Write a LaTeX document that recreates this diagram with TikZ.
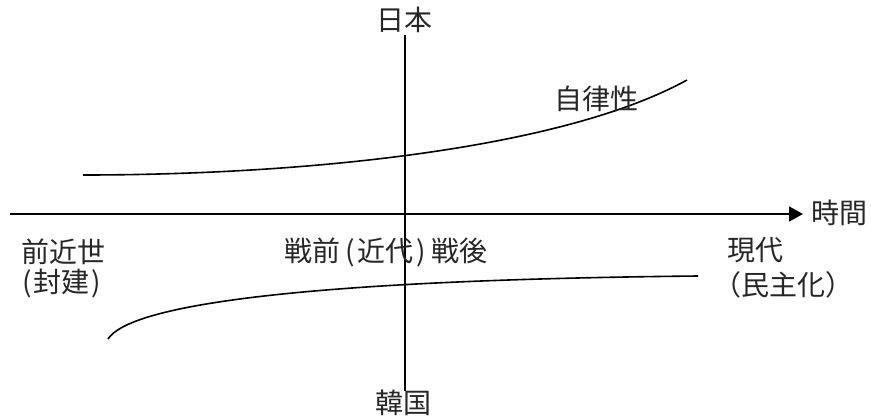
\documentclass[tikz,border=0pt]{standalone}
\usepackage{fontspec}
\setmainfont{Noto Sans CJK JP}
\usetikzlibrary{arrows.meta}
\begin{document}
\begin{tikzpicture}[x=1pt,y=-1pt,
  lbl/.style={font=\fontsize{28}{30}\selectfont, inner sep=0pt, text=black!85},
  axisline/.style={line width=1.6pt},
  trend/.style={line width=1.6pt}]
\useasboundingbox (0,0) rectangle (871,418);
% axes
\coordinate (xs) at (10,214);
\node[lbl, anchor=west, inner xsep=8pt] (time) at (803,213) {時間};
\draw[axisline,-{Triangle[length=14pt,width=15pt]}] (xs) -- (xs -| time.west);
\node[lbl] (nihon) at (404,20) {日本};
\node[lbl] (kankoku) at (403,403) {韓国};
\coordinate (ytop) at (405,35);
\coordinate (ybot) at (405,391);
\draw[axisline] (ytop) -- (ybot);
% curves
\coordinate (u0) at (83,175);
\coordinate (u1) at (687,80);
\draw[trend] (u0) .. controls (300,175) and (560,150) .. (u1);
\coordinate (l0) at (108,339);
\coordinate (l1) at (698,276);
\draw[trend] (l0) .. controls (130,305) and (300,280) .. (l1);
% labels
\node[lbl, anchor=west] (jiritsu) at (554,99) {自律性};
\node[lbl, anchor=west] (kinsei) at (21,252) {前近世};
\node[lbl, anchor=west] (houken) at (22,283) {(\kern2pt封建\kern2pt)};
\node[lbl, anchor=west] (senzen) at (284,252) {戦前\kern5pt(\kern3pt近代\kern3pt)\kern5pt戦後};
\node[lbl, anchor=west] (gendai) at (727,250) {現代};
\node[lbl, anchor=west] (minshu) at (713,285) {（民主化）};
\end{tikzpicture}
\end{document}
